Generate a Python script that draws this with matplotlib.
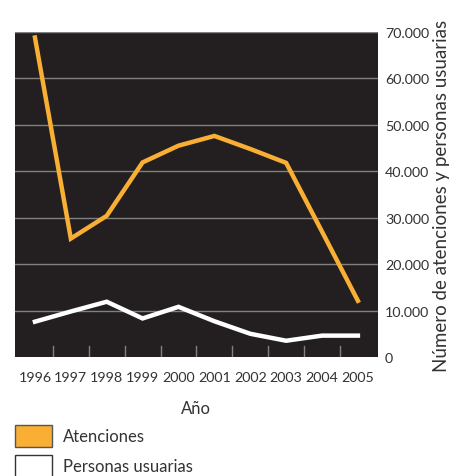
import numpy as np
import matplotlib.pyplot as plt
from matplotlib.patches import Rectangle

plt.rcParams['font.family'] = ['Lato', 'DejaVu Sans']

# datos
years = ['1996', '1997', '1998', '1999', '2000', '2001', '2002', '2003', '2004', '2005']
atenciones = [68800, 25500, 30400, 41900, 45500, 47600, 44800, 41800, 27000, 12100]
personas = [7600, 9800, 11900, 8300, 10800, 7700, 5000, 3500, 4600, 4600]
yticks = [0, 10000, 20000, 30000, 40000, 50000, 60000, 70000]

ORANGE = '#F9AE34'
BG = '#231F20'
GRID = '#808080'
TXT = '#333333'

fig = plt.figure(figsize=(4.5, 4.77), dpi=100)
ax = fig.add_axes([0.033, 0.2495, 0.807, 0.6815])
ax.set_facecolor(BG)

x = np.arange(len(years))
for v in yticks[1:]:
    ax.axhline(v, color=GRID, lw=1.0, zorder=1)

ax.plot(x, atenciones, color=ORANGE, lw=3.2, zorder=3, solid_joinstyle='miter')
ax.plot(x, personas, color='white', lw=3.2, zorder=3, solid_joinstyle='miter')

# marcas entre categorias
for b in np.arange(0.5, len(years) - 1, 1.0):
    ax.plot([b, b], [0, 2300], color=GRID, lw=1.0, zorder=2)

ax.set_xlim(-0.56, len(years) - 1 + 0.56)
ax.set_ylim(0, 70000)
ax.set_xticks(x)
ax.set_xticklabels(years, fontsize=10.3, color=TXT)
ax.tick_params(axis='x', length=0, pad=10)

ax.yaxis.tick_right()
ax.yaxis.set_label_position('right')
ax.set_yticks(yticks)
ax.set_yticklabels([f'{v:,}'.replace(',', '.') for v in yticks], fontsize=10.3,
                   color=TXT)
ax.tick_params(axis='y', length=0, pad=5)
ax.set_ylabel('Número de atenciones y personas usuarias', fontsize=13.5,
              color=TXT, labelpad=3)
ax.set_xlabel('Año', fontsize=12, color=TXT, labelpad=12)

for s in ax.spines.values():
    s.set_visible(False)

# leyenda
fig.patches.append(Rectangle((15 / 450, 1 - 448 / 477), 37 / 450, 22 / 477,
                             transform=fig.transFigure, facecolor=ORANGE,
                             edgecolor='#555555', lw=1.0))
fig.text(63 / 450, 1 - 437 / 477, 'Atenciones', fontsize=12, color=TXT,
         va='center')
fig.patches.append(Rectangle((15 / 450, 1 - 478 / 477), 37 / 450, 22 / 477,
                             transform=fig.transFigure, facecolor='white',
                             edgecolor='#333333', lw=1.0))
fig.text(63 / 450, 1 - 467 / 477, 'Personas usuarias', fontsize=12, color=TXT,
         va='center')

fig.savefig('out.png', dpi=100)
